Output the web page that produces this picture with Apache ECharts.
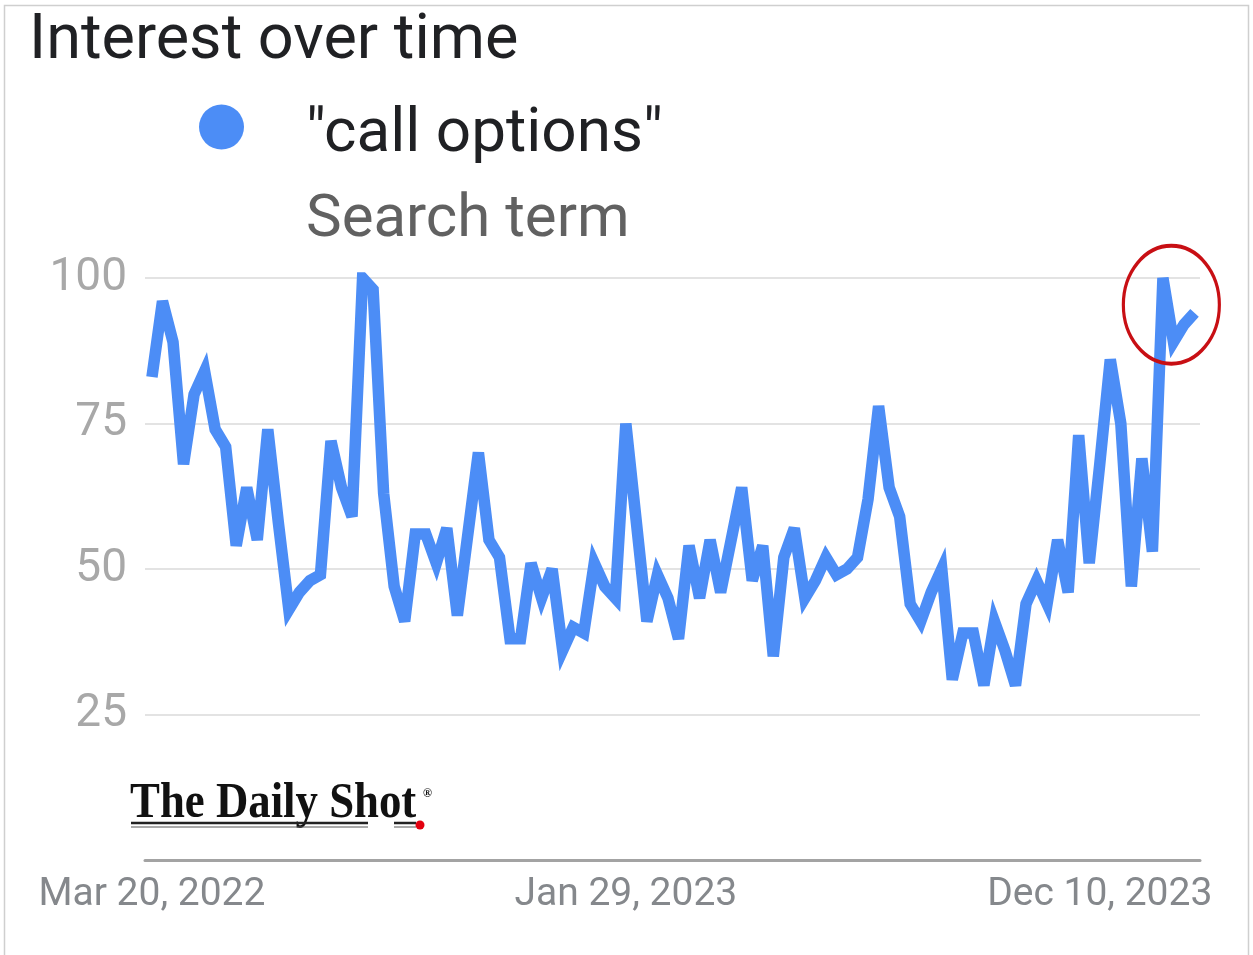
<!DOCTYPE html>
<html>
<head>
<meta charset="utf-8">
<script src="https://cdn.jsdelivr.net/npm/echarts@6/dist/echarts.min.js"></script>
<style>
html,body{margin:0;padding:0;background:#fff;}
#chart{width:1253px;height:955px;}
</style>
</head>
<body>
<div id="chart"></div>
<script>
// ---- data ----
const chartTitle = 'Interest over time';
const seriesName = '"call options"';
const legendSubtitle = 'Search term';
const startDate = [2022, 2, 20]; // Mar 20, 2022, weekly points
const values = [
  83, 96, 89, 68, 80, 84, 74, 71, 54, 64,
  55, 74, 58, 43, 46, 48, 49, 72, 64, 59,
  100, 98, 63, 47, 41, 56, 56, 51, 57, 42,
  56, 70, 55, 52, 38, 38, 51, 45, 50, 36,
  40, 39, 51, 47, 45, 75, 58, 41, 49, 45,
  38, 54, 45, 55, 46, 55, 64, 48, 54, 35,
  52, 57, 45, 48, 52, 49, 50, 52, 62, 78,
  64, 59, 44, 41, 46, 50, 31, 39, 39, 30,
  41, 36, 30, 44, 48, 44, 55, 46, 73, 51,
  68, 86, 75, 47, 69, 53, 100, 89, 92, 94
];
const xLabelIndices = [0, 45, 90];
const yTicks = [25, 50, 75, 100];
const highlight = [96.8, 95.4]; // circled recent peak

const monthNames = ['Jan','Feb','Mar','Apr','May','Jun','Jul','Aug','Sep','Oct','Nov','Dec'];
const categories = values.map((v, i) => {
  const d = new Date(Date.UTC(startDate[0], startDate[1], startDate[2] + 7 * i));
  return monthNames[d.getUTCMonth()] + ' ' + d.getUTCDate() + ', ' + d.getUTCFullYear();
});
const seriesData = values.map((v, i) => [i, v]);

const chart = echarts.init(document.getElementById('chart'), null, {renderer: 'canvas'});
const FONT = 'Roboto, "Noto Sans", sans-serif';

chart.setOption({
  animation: false,
  backgroundColor: '#ffffff',
  title: {
    text: chartTitle,
    left: 24, top: 6,
    textStyle: {fontFamily: FONT, fontSize: 63, fontWeight: 'normal', color: '#202124'}
  },
  legend: {
    data: [seriesName],
    left: 194, top: 99,
    icon: 'circle',
    itemWidth: 45, itemHeight: 45,
    selectedMode: false,
    formatter: name => '{a|' + name + '}',
    textStyle: {
      fontFamily: FONT, fontSize: 62, color: '#202124',
      rich: {a: {fontFamily: FONT, fontSize: 62, color: '#202124', padding: [16, 0, 0, 57]}}
    }
  },
  grid: {left: 145, right: 53, top: 278, bottom: 95, containLabel: false},
  xAxis: {
    type: 'value',
    min: -0.66, max: 99.52,
    axisLine: {show: true, onZero: false, lineStyle: {color: '#a3a3a3', width: 3}},
    axisTick: {show: false},
    splitLine: {show: false},
    axisLabel: {
      customValues: xLabelIndices,
      formatter: v => categories[Math.round(v)],
      fontFamily: FONT, fontSize: 39, color: '#85888c', margin: 16
    }
  },
  yAxis: {
    type: 'value',
    min: 0, max: 100, interval: 25,
    axisLine: {show: false},
    axisTick: {show: false},
    axisLabel: {
      formatter: v => (yTicks.indexOf(v) >= 0 ? String(v) : ''),
      fontFamily: FONT, fontSize: 46, color: '#a8a8a8', margin: 18
    },
    splitLine: {lineStyle: {color: '#e3e3e3', width: 2}}
  },
  series: [{
    name: seriesName,
    type: 'line',
    data: seriesData,
    showSymbol: false,
    symbol: 'none',
    itemStyle: {color: '#4c8df6'},
    lineStyle: {color: '#4c8df6', width: 11.5, join: 'miter', miterLimit: 4, cap: 'butt'},
    emphasis: {disabled: true},
    markPoint: {
      silent: true,
      symbol: 'path://M0 50A50 50 0 1 1 100 50A50 50 0 1 1 0 50Z',
      symbolSize: [96, 118],
      symbolKeepAspect: false,
      label: {show: false},
      itemStyle: {color: 'rgba(0,0,0,0)', borderColor: '#c80f14', borderWidth: 3.5},
      data: [{coord: highlight}]
    }
  }],
  graphic: [
    {type: 'rect', silent: true, shape: {x: 4.5, y: 5.5, width: 1244, height: 960},
     style: {fill: 'none', stroke: '#cfcfcf', lineWidth: 1.5}},
    {type: 'text', left: 306, top: 191, silent: true,
     style: {text: legendSubtitle, font: '60px ' + FONT, fill: '#616161'}},
    {type: 'text', x: 130, y: 778, scaleX: 1.12, scaleY: 1.28, silent: true,
     style: {text: 'The Daily Shot', font: 'bold 40px "Liberation Serif", serif', fill: '#111111'}},
    {type: 'text', left: 423, top: 788, silent: true,
     style: {text: '\u00AE', font: 'bold 12px "Liberation Serif", serif', fill: '#111111'}},
    {type: 'line', silent: true, shape: {x1: 131, y1: 823, x2: 368, y2: 823},
     style: {stroke: '#222222', lineWidth: 2.5}},
    {type: 'line', silent: true, shape: {x1: 131, y1: 827, x2: 368, y2: 827},
     style: {stroke: '#555555', lineWidth: 1}},
    {type: 'line', silent: true, shape: {x1: 394, y1: 823, x2: 416, y2: 823},
     style: {stroke: '#222222', lineWidth: 2.5}},
    {type: 'line', silent: true, shape: {x1: 394, y1: 827, x2: 416, y2: 827},
     style: {stroke: '#555555', lineWidth: 1}},
    {type: 'circle', silent: true, shape: {cx: 420, cy: 825, r: 4.5},
     style: {fill: '#e3000f'}}
  ]
});
</script>
</body>
</html>
